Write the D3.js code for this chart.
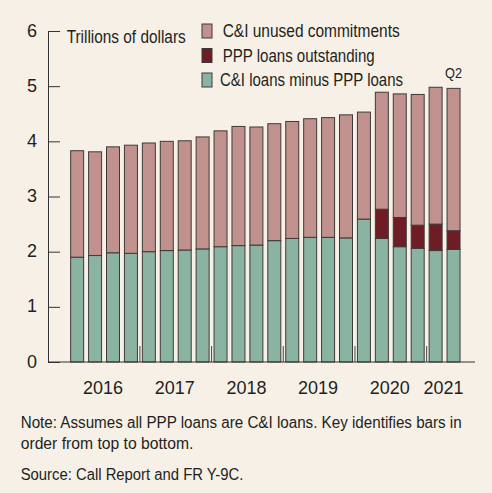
<!DOCTYPE html>
<html>
<head>
<meta charset="utf-8">
<script src="https://cdn.jsdelivr.net/npm/d3@7"></script>
<style>
body { margin: 0; background: #f6f0e7; }
text { font-family: "Liberation Sans", Arial, sans-serif; fill: #231f20; }
</style>
</head>
<body>
<div class="chart"></div>
<script>
var width = 492;
var height = 493;

// data, 2016:Q1 .. 2021:Q2
var quarters = ["2016Q1","2016Q2","2016Q3","2016Q4","2017Q1","2017Q2","2017Q3","2017Q4",
	"2018Q1","2018Q2","2018Q3","2018Q4","2019Q1","2019Q2","2019Q3","2019Q4",
	"2020Q1","2020Q2","2020Q3","2020Q4","2021Q1","2021Q2"];
var ci_minus_ppp = [1.90,1.93,1.98,1.97,2.00,2.02,2.03,2.05,2.09,2.11,2.12,2.20,
	2.24,2.26,2.26,2.25,2.59,2.24,2.09,2.06,2.02,2.04];
var ppp_loans = [0,0,0,0,0,0,0,0,0,0,0,0,0,0,0,0,0,0.53,0.53,0.42,0.48,0.34];
var unused_commitments = [1.93,1.88,1.92,1.96,1.97,1.98,1.98,2.03,2.10,2.16,2.14,2.12,
	2.12,2.15,2.17,2.23,1.94,2.12,2.24,2.37,2.48,2.58];
var years = ["2016","2017","2018","2019","2020","2021"];
var y_ticks = [0,1,2,3,4,5,6];
var series_names = ["C&I unused commitments","PPP loans outstanding","C&I loans minus PPP loans"];
var colors = ["#c0918d","#6d1d23","#8bb3a2"];

var svg = d3.select(".chart").append("svg")
	.attr("width", width)
	.attr("height", height);

svg.append("rect")
	.attr("width", width)
	.attr("height", height)
	.attr("fill", "#f6f0e7");

var xScale = d3.scaleBand()
	.domain(quarters)
	.range([68.2, 462.5])
	.paddingInner(0.275)
	.paddingOuter(0.1375);

var yScale = d3.scaleLinear()
	.domain([0, 6])
	.range([362, 31]);

// stack: bottom to top
var table = quarters.map(function (q, i) {
	return { q: q, ci: ci_minus_ppp[i], ppp: ppp_loans[i], unused: unused_commitments[i] };
});
var stack = d3.stack().keys(["ci", "ppp", "unused"]);
var layers = stack(table);
var layer_colors = { ci: colors[2], ppp: colors[1], unused: colors[0] };

var bars = svg.append("g");
layers.forEach(function (layer) {
	bars.append("g")
		.selectAll("rect")
		.data(layer.filter(function (d) { return d[1] - d[0] > 0; }))
		.enter().append("rect")
		.attr("x", function (d) { return xScale(d.data.q); })
		.attr("width", xScale.bandwidth())
		.attr("y", function (d) { return yScale(d[1]); })
		.attr("height", function (d) { return yScale(d[0]) - yScale(d[1]); })
		.attr("fill", layer_colors[layer.key])
		.attr("stroke", "#3f3a3a")
		.attr("stroke-width", 1);
});

// y axis
var yAxis = d3.axisLeft(yScale)
	.tickValues(y_ticks)
	.tickFormat(d3.format("d"))
	.tickSize(-12)
	.tickSizeOuter(0)
	.tickPadding(11);
var yg = svg.append("g")
	.attr("transform", "translate(48,0)")
	.call(yAxis);
yg.select(".domain").attr("stroke", "#333");
yg.selectAll(".tick line").attr("stroke", "#333");
yg.selectAll(".tick text")
	.style("font-family", "'Liberation Sans', Arial, sans-serif")
	.style("font-size", "18px")
	.attr("dy", "0.28em")
	.attr("fill", "#231f20");

// baseline
svg.append("line")
	.attr("x1", 48).attr("x2", 475)
	.attr("y1", yScale(0)).attr("y2", yScale(0))
	.attr("stroke", "#333");

// year separators
var gap = xScale.step() * xScale.paddingInner();
svg.append("g").selectAll("line")
	.data(years.slice(1))
	.enter().append("line")
	.attr("x1", function (d) { return xScale(d + "Q1") - gap / 2; })
	.attr("x2", function (d) { return xScale(d + "Q1") - gap / 2; })
	.attr("y1", yScale(0))
	.attr("y2", yScale(0) - 16)
	.attr("stroke", "#444");

// year labels
svg.append("g").selectAll("text")
	.data(years)
	.enter().append("text")
	.attr("x", function (yr) {
		var qs = quarters.filter(function (q) { return q.slice(0, 4) == yr; });
		return d3.mean(qs, function (q) { return xScale(q) + xScale.bandwidth() / 2; }) - 1;
	})
	.attr("y", 394)
	.attr("text-anchor", "middle")
	.attr("textLength", 40)
	.attr("lengthAdjust", "spacingAndGlyphs")
	.style("font-size", "19px")
	.text(function (d) { return d; });

// units label
svg.append("text")
	.attr("x", 66.7)
	.attr("y", 42.5)
	.attr("textLength", 119)
	.attr("lengthAdjust", "spacingAndGlyphs")
	.style("font-size", "17.5px")
	.text("Trillions of dollars");

// legend
var legend_widths = [177, 152, 183];
var legend = svg.append("g").selectAll("g")
	.data(series_names)
	.enter().append("g")
	.attr("transform", function (d, i) { return "translate(202," + (24 + i * 24.5) + ")"; });
legend.append("rect")
	.attr("width", 10)
	.attr("height", 14)
	.attr("fill", function (d, i) { return colors[i]; })
	.attr("stroke", "#3f3a3a");
legend.append("text")
	.attr("x", function (d, i) { return i == 2 ? 18 : 20.7; })
	.attr("y", 13.3)
	.attr("textLength", function (d, i) { return legend_widths[i]; })
	.attr("lengthAdjust", "spacingAndGlyphs")
	.style("font-size", "17.5px")
	.text(function (d) { return d; });

// last bar label
svg.append("text")
	.attr("x", xScale(quarters[quarters.length - 1]) + xScale.bandwidth() / 2)
	.attr("y", 78)
	.attr("text-anchor", "middle")
	.attr("textLength", 17)
	.attr("lengthAdjust", "spacingAndGlyphs")
	.style("font-size", "15.5px")
	.text("Q2");

// notes
var notes = [
	["Note: Assumes all PPP loans are C&I loans. Key identifies bars in", 428.3, 441],
	["order from top to bottom.", 449.3, 172.7],
	["Source: Call Report and FR Y-9C.", 480, 222.7]
];
svg.append("g").selectAll("text")
	.data(notes)
	.enter().append("text")
	.attr("x", 20.7)
	.attr("y", function (d) { return d[1]; })
	.attr("textLength", function (d) { return d[2]; })
	.attr("lengthAdjust", "spacingAndGlyphs")
	.style("font-size", "16px")
	.text(function (d) { return d[0]; });
</script>
</body>
</html>
